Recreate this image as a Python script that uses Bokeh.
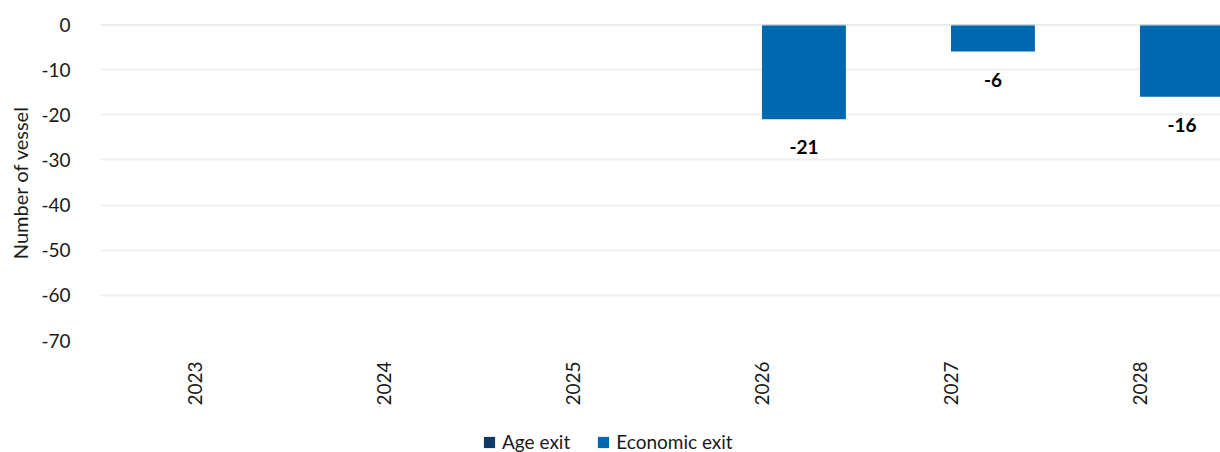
import math
from bokeh.plotting import figure
from bokeh.layouts import column
from bokeh.models import (ColumnDataSource, Range1d, FixedTicker, Span, Legend, LegendItem, LabelSet)
from bokeh.core.properties import value
from bokeh.embed import file_html
from bokeh.resources import INLINE

years = ["2023", "2024", "2025", "2026", "2027", "2028"]
age_exit = [0, 0, 0, 0, 0, 0]
economic_exit = [0, 0, 0, -21, -6, -16]
y_ticks = [0, -10, -20, -30, -40, -50, -60, -70]
series_names = ["Age exit", "Economic exit"]

FONT = "Lato"
AGE_COLOR = "#0f3a66"
ECO_COLOR = "#0068b1"
TXT = "#1a1a1a"

bar_w = 0.444
idx = list(range(len(years)))

p = figure(frame_width=1120, frame_height=316, output_backend="svg", toolbar_location=None,
           x_range=Range1d(-0.5, 5.426), y_range=Range1d(-70, 0),
           min_border_left=100, min_border_right=0, min_border_top=24, min_border_bottom=64)
p.outline_line_color = None
p.background_fill_color = "white"
p.border_fill_color = "white"

src = ColumnDataSource(dict(
    x_age=[i - bar_w / 2 for i in idx],
    x_eco=[i + bar_w / 2 for i in idx],
    age=age_exit, eco=economic_exit,
    lab=[str(v) if v != 0 else "" for v in economic_exit],
))

p.vbar(x="x_age", top="age", bottom=0, width=bar_w, source=src,
       fill_color=AGE_COLOR, line_color=None)
p.vbar(x="x_eco", top="eco", bottom=0, width=bar_w, source=src,
       fill_color=ECO_COLOR, line_color=None)

labels = LabelSet(x="x_eco", y="eco", text="lab", source=src, text_align="center",
                  text_baseline="middle", y_offset=-28, text_font=value(FONT),
                  text_font_size=value("19px"), text_font_style=value("bold"),
                  text_color=value("#000000"))
p.add_layout(labels)

p.add_layout(Span(location=0, dimension="width", line_color="#d9d9d9", line_width=2))

# axes
p.xaxis.ticker = FixedTicker(ticks=idx)
p.xaxis.major_label_overrides = {i: y for i, y in enumerate(years)}
p.xaxis.major_label_orientation = math.pi / 2
p.xaxis.axis_line_color = None
p.xaxis.major_tick_line_color = None
p.xaxis.minor_tick_line_color = None
p.xaxis.major_label_standoff = 15
p.xaxis.major_label_text_font = FONT
p.xaxis.major_label_text_font_size = "19px"
p.xaxis.major_label_text_color = TXT

p.yaxis.ticker = FixedTicker(ticks=y_ticks)
p.yaxis.major_label_overrides = {t: str(t) for t in y_ticks}
p.yaxis.axis_line_color = None
p.yaxis.major_tick_line_color = None
p.yaxis.minor_tick_line_color = None
p.yaxis.major_label_standoff = 24
p.yaxis.major_label_text_font = FONT
p.yaxis.major_label_text_font_size = "19px"
p.yaxis.major_label_text_color = TXT
p.yaxis.axis_label = "Number of vessel"
p.yaxis.axis_label_text_font = FONT
p.yaxis.axis_label_text_font_size = "20px"
p.yaxis.axis_label_text_font_style = "normal"
p.yaxis.axis_label_text_color = TXT
p.yaxis.axis_label_standoff = 6

p.xgrid.grid_line_color = None
p.ygrid.grid_line_color = "#efefef"
p.ygrid.grid_line_width = 2

# legend strip below the chart
p2 = figure(width=1220, height=48, output_backend="svg", toolbar_location=None,
            x_range=Range1d(0, 1), y_range=Range1d(0, 1), min_border=0)
p2.outline_line_color = None
p2.axis.visible = False
p2.grid.visible = False
lg_age = p2.vbar(x=[5], top=[5], width=0.1, fill_color=AGE_COLOR, line_color=None)
lg_eco = p2.vbar(x=[5], top=[5], width=0.1, fill_color=ECO_COLOR, line_color=None)
legend = Legend(items=[LegendItem(label=series_names[0], renderers=[lg_age]),
                       LegendItem(label=series_names[1], renderers=[lg_eco])],
                orientation="horizontal", location=(382, 3),
                label_text_font=FONT, label_text_font_size="19px", label_text_color=TXT,
                glyph_width=14, glyph_height=14, label_standoff=6, spacing=26,
                padding=4, margin=0, border_line_color=None, background_fill_alpha=0)
p2.add_layout(legend, "center")

layout = column(p, p2, spacing=0)
open("out.html", "w").write(file_html(layout, INLINE))
